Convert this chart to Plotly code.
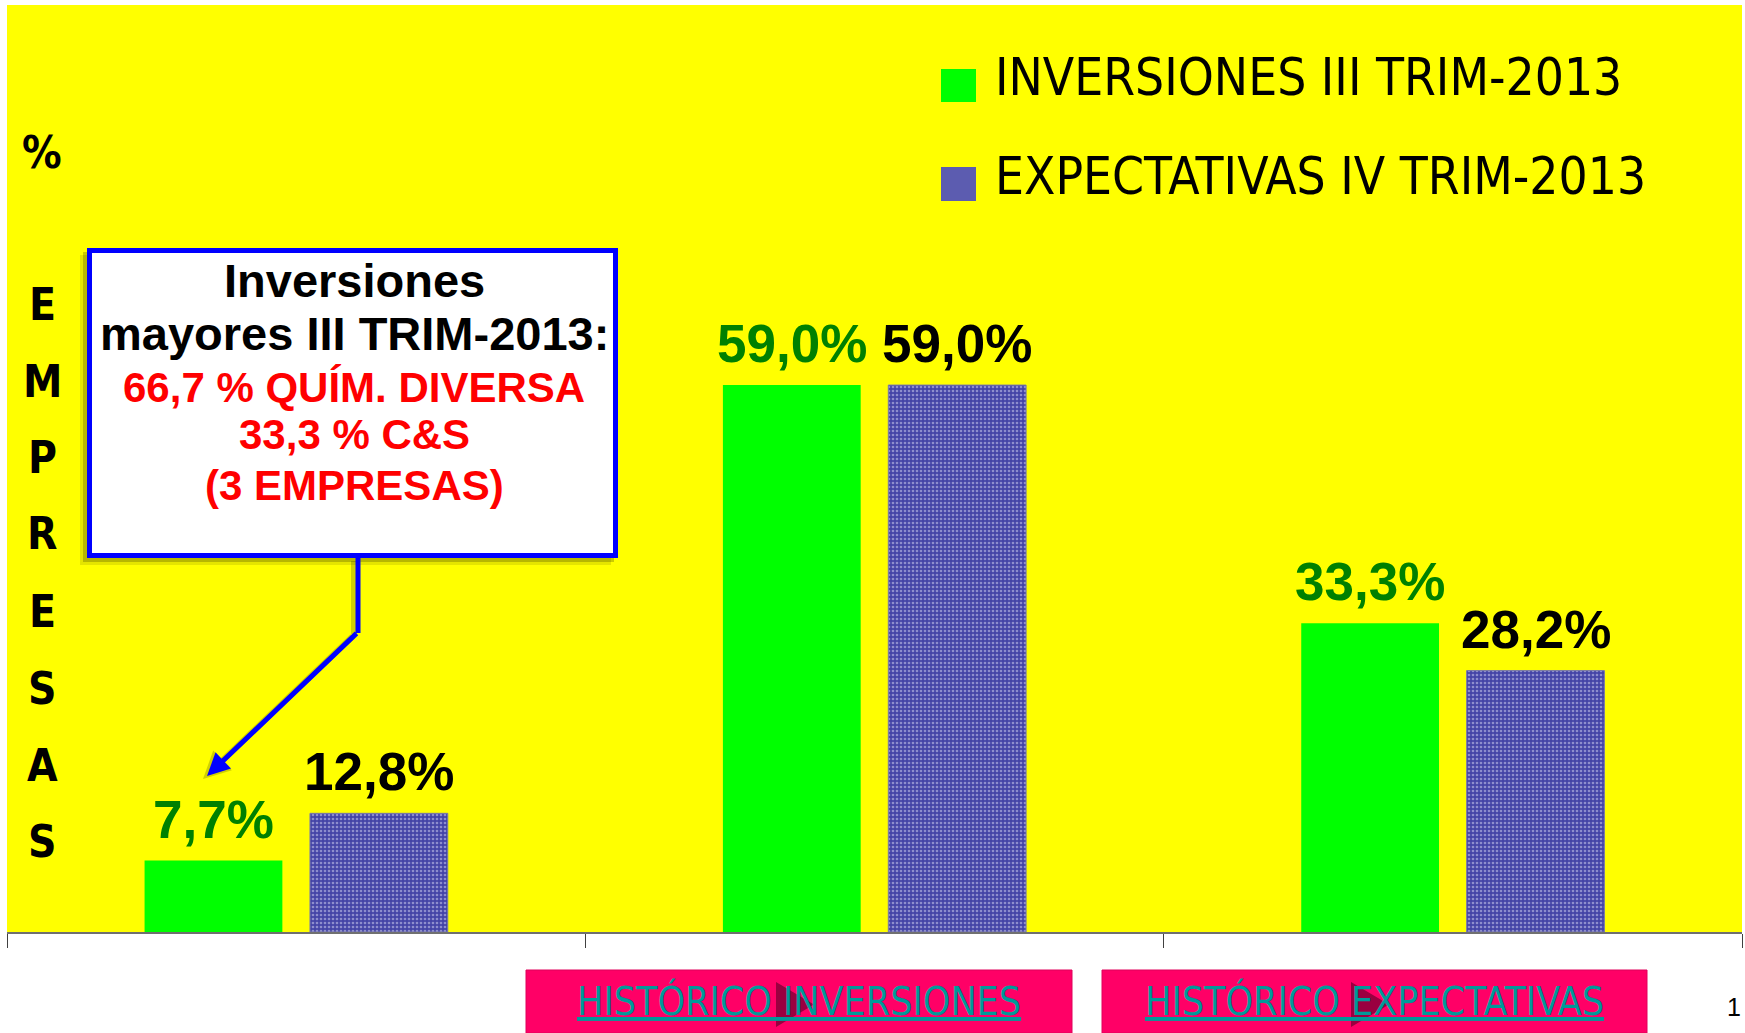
import plotly.graph_objects as go

# ---------------- data ----------------
categories = ["MAYORES", "IGUALES", "MENORES"]
inversiones = [7.7, 59.0, 33.3]
expectativas = [12.8, 59.0, 28.2]
series_names = ["INVERSIONES III TRIM-2013", "EXPECTATIVAS IV TRIM-2013"]
axis_letters = ["%", "E", "M", "P", "R", "E", "S", "A", "S"]
callout_lines = ["Inversiones", "mayores III TRIM-2013:", "66,7 % QUÍM. DIVERSA", "33,3 % C&S", "(3 EMPRESAS)"]
button_labels = ["HISTÓRICO INVERSIONES", "HISTÓRICO EXPECTATIVAS"]
page_number = "1"

# ---------------- geometry helpers ----------------
W, H = 1745, 1033
ML, MR, MT, MB = 7, 3, 5, 101
PW = W - ML - MR
PH = H - MT - MB
BARGAP = 0.428
BARGROUPGAP = 0.167


def px(x):
    return (x - ML) / PW


def py(y):
    return (H - MB - y) / PH


def fmt(v):
    return f"{v:.1f}".replace(".", ",") + "%"


COND = "DejaVu Sans Condensed, DejaVu Sans, sans-serif"
ARIAL = "Arial, Liberation Sans, sans-serif"

fig = go.Figure()
fig.add_trace(go.Bar(
    x=categories, y=inversiones, name=series_names[0],
    marker=dict(color="#00FF00", line=dict(width=0)),
    showlegend=False, hoverinfo="skip",
))
fig.add_trace(go.Bar(
    x=categories, y=expectativas, name=series_names[1],
    marker=dict(color="#4444a6",
                line=dict(width=1, color="#7a7aa8"),
                pattern=dict(shape=".", fgcolor="#d8d8f4", bgcolor="#4444a6", size=4, solidity=0.35)),
    showlegend=False, hoverinfo="skip",
))

annotations = []
shapes = []

# bar value labels
cat_px = PW / len(categories)
shift = cat_px * (1 - BARGAP) / 2 / 2
for si, (vals, col) in enumerate([(inversiones, "#008000"), (expectativas, "#000000")]):
    for c, v in zip(categories, vals):
        annotations.append(dict(
            x=c, y=v, xref="x", yref="y", text="<b>" + fmt(v) + "</b>",
            showarrow=False, xanchor="center", yanchor="bottom",
            xshift=(-shift if si == 0 else shift), yshift=10,
            font=dict(family=ARIAL, size=53, color=col),
        ))

# vertical axis title letters
letter_y = [152, 304, 381, 457, 534, 611, 688, 765, 841]
for ch, yc in zip(axis_letters, letter_y):
    annotations.append(dict(
        x=px(42), y=py(yc), xref="paper", yref="paper", text="<b>" + ch + "</b>",
        showarrow=False, xanchor="center", yanchor="middle",
        font=dict(family=COND, size=44, color="black"),
    ))

# manual legend
leg = [(series_names[0], "#00FF00", 69, 102, 78), (series_names[1], "#5c5cb0", 167, 201, 176)]
for name, col, y0, y1, yc in leg:
    shapes.append(dict(type="rect", xref="paper", yref="paper",
                       x0=px(941), x1=px(976), y0=py(y1), y1=py(y0),
                       fillcolor=col, line=dict(width=0)))
    annotations.append(dict(
        x=px(993), y=py(yc), xref="paper", yref="paper", text=name,
        showarrow=False, xanchor="left", yanchor="middle",
        font=dict(family=COND, size=51, color="black"),
    ))

# callout box with shadow
for off, a in [(7, 0.10), (4, 0.20)]:
    shapes.append(dict(type="rect", xref="paper", yref="paper",
                       x0=px(87 - off), x1=px(618 - off), y0=py(558 + off), y1=py(248 + off),
                       fillcolor=f"rgba(0,0,0,{a})", line=dict(width=0)))
shapes.append(dict(type="rect", xref="paper", yref="paper",
                   x0=px(89.5), x1=px(615.5), y0=py(555.5), y1=py(250.5),
                   fillcolor="white", line=dict(width=5, color="#0000FF")))

call_y = [280, 334, 387, 435, 485]
call_size = [47, 47, 42, 42, 42]
call_col = ["black", "black", "#FF0000", "#FF0000", "#FF0000"]
for t, yc, s, c in zip(callout_lines, call_y, call_size, call_col):
    annotations.append(dict(
        x=px(354), y=py(yc), xref="paper", yref="paper", text="<b>" + t + "</b>",
        showarrow=False, xanchor="center", yanchor="middle",
        font=dict(family=ARIAL, size=s, color=c),
    ))

# connector + arrow (with soft shadow)
shapes.append(dict(type="line", xref="paper", yref="paper",
                   x0=px(354), x1=px(354), y0=py(561), y1=py(634),
                   line=dict(width=6, color="rgba(0,0,0,0.18)")))
shapes.append(dict(type="line", xref="paper", yref="paper",
                   x0=px(358), x1=px(358), y0=py(558), y1=py(633),
                   line=dict(width=5, color="#0000FF")))
annotations.append(dict(
    x=px(203), y=py(779), xref="paper", yref="paper", text="",
    showarrow=True, ax=151, ay=-144, arrowcolor="rgba(0,0,0,0.18)",
    arrowwidth=6, arrowhead=2, arrowsize=0.9, standoff=0,
))
annotations.append(dict(
    x=px(207), y=py(776), xref="paper", yref="paper", text="",
    showarrow=True, ax=151, ay=-144, arrowcolor="#0000FF",
    arrowwidth=5, arrowhead=2, arrowsize=0.9, standoff=0,
))

# navigation buttons
btns = [(526, 1072, 776, 814), (1102, 1647, 1351, 1389)]
for label, (bx0, bx1, tx0, tx1) in zip(button_labels, btns):
    shapes.append(dict(type="rect", xref="paper", yref="paper",
                       x0=px(bx0), x1=px(bx1), y0=py(1033), y1=py(970),
                       fillcolor="#FF0066", line=dict(width=1, color="#e0005a")))
    shapes.append(dict(type="path", xref="paper", yref="paper",
                       path=f"M {px(tx0)},{py(982)} L {px(tx1)},{py(1004.5)} L {px(tx0)},{py(1027)} Z",
                       fillcolor="#9a0040", line=dict(width=0)))
    annotations.append(dict(
        x=px((bx0 + bx1) / 2), y=py(1001), xref="paper", yref="paper", text=label,
        showarrow=False, xanchor="center", yanchor="middle",
        font=dict(family=COND, size=39, color="#009999", lineposition="under"),
    ))

annotations.append(dict(
    x=px(1734), y=py(1007), xref="paper", yref="paper", text=page_number,
    showarrow=False, xanchor="center", yanchor="middle",
    font=dict(family=ARIAL, size=25, color="black"),
))

fig.update_layout(
    width=W, height=H,
    margin=dict(l=ML, r=MR, t=MT, b=MB, pad=0, autoexpand=False),
    paper_bgcolor="white", plot_bgcolor="#FFFF00",
    barmode="group", bargap=BARGAP, bargroupgap=BARGROUPGAP,
    showlegend=False,
    xaxis=dict(type="category", range=[-0.5, 2.5], showticklabels=False,
               ticks="outside", tickson="boundaries", ticklen=14, tickwidth=1,
               tickcolor="#404040", showline=True, linecolor="#707070", linewidth=2,
               showgrid=False, zeroline=False, fixedrange=True),
    yaxis=dict(range=[0, 100], visible=False, fixedrange=True),
    annotations=annotations, shapes=shapes,
)

fig.write_html("out.html", config={"displayModeBar": False},
               post_script="document.body.style.margin='0';document.body.style.overflow='hidden';")
